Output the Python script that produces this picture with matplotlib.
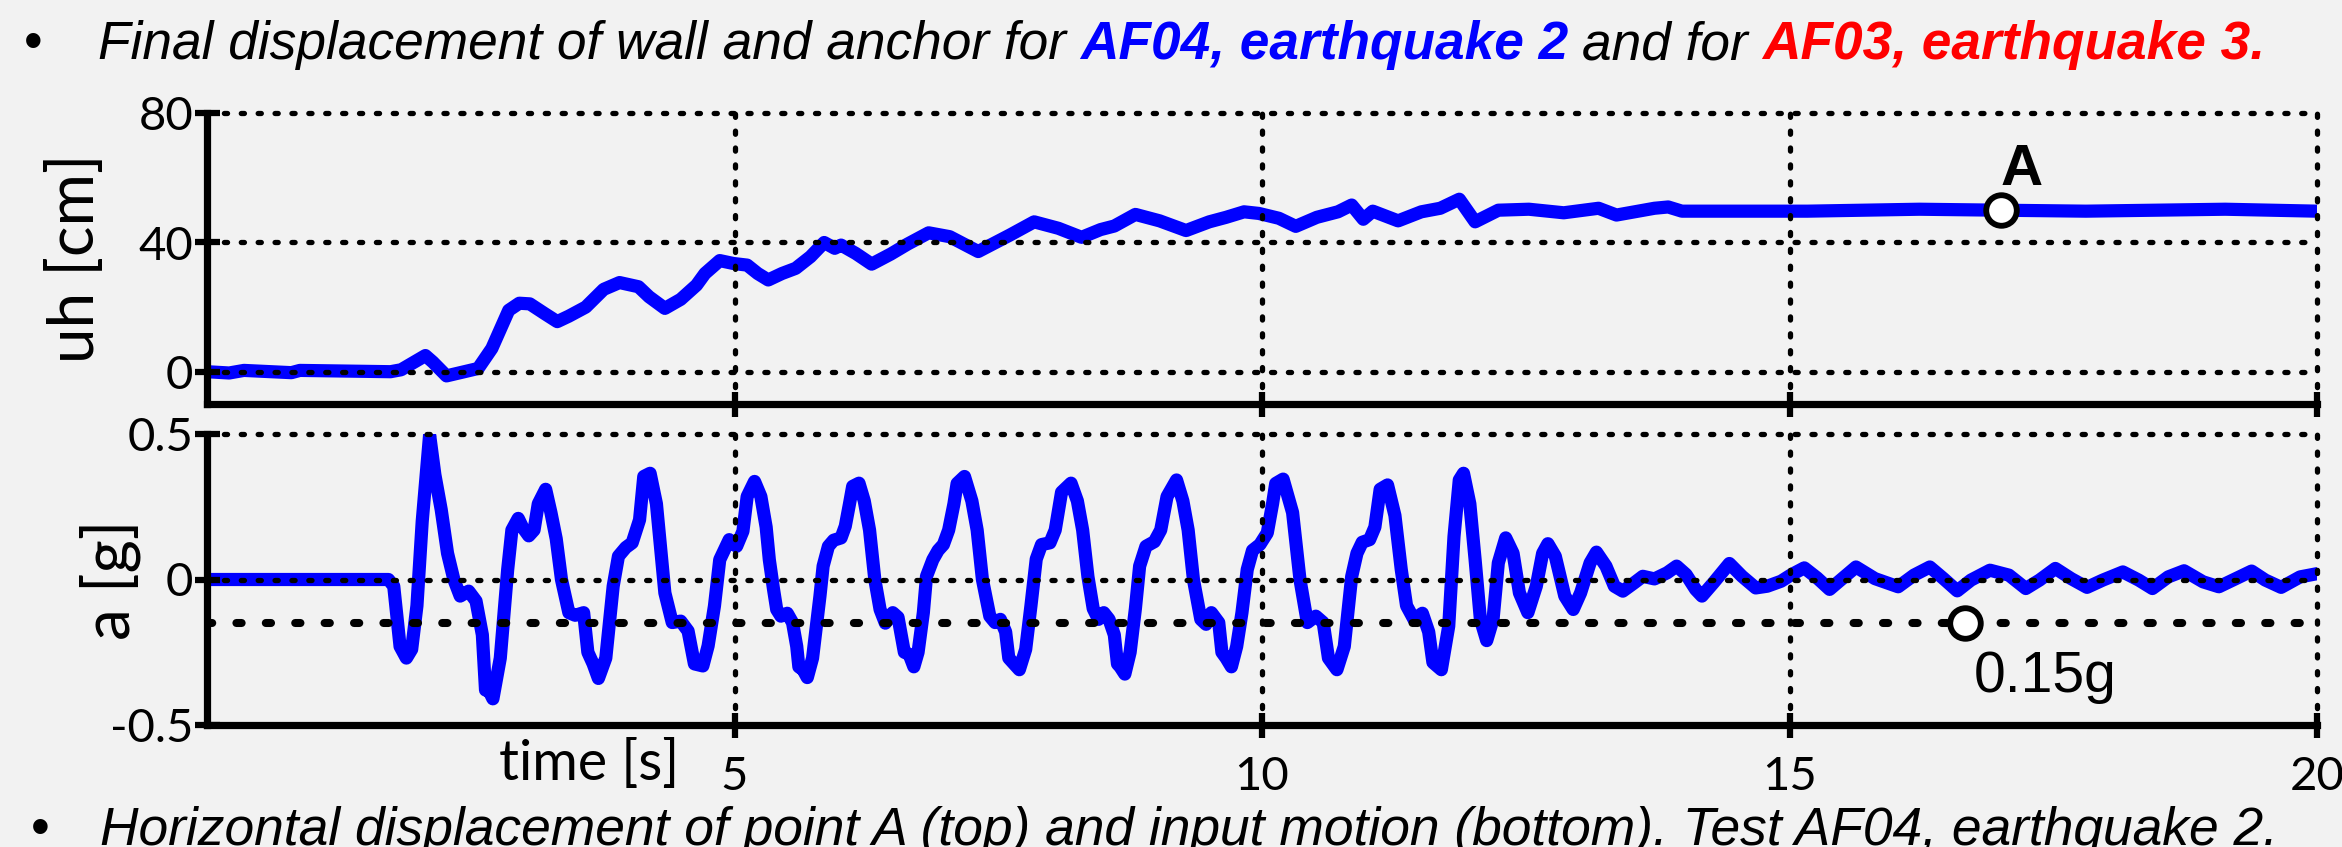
import matplotlib
matplotlib.use("Agg")
import matplotlib.pyplot as plt
from matplotlib.transforms import IdentityTransform

# ---------------- data ----------------
t_uh = [0, 0.21, 0.35, 0.8, 0.88, 1.74, 1.84, 2.07, 2.14, 2.27, 2.57, 2.70, 2.86, 2.96, 3.06,
        3.20, 3.32, 3.43, 3.59, 3.76, 3.91, 4.09, 4.19, 4.34, 4.49, 4.64, 4.72, 4.86, 4.99,
        5.12, 5.22, 5.32, 5.45, 5.58, 5.72, 5.85, 5.95, 6.01, 6.15, 6.30, 6.48, 6.64, 6.84,
        7.04, 7.31, 7.61, 7.84, 8.07, 8.29, 8.47, 8.60, 8.80, 9.03, 9.28, 9.50, 9.66, 9.83,
        9.97, 10.16, 10.32, 10.52, 10.72, 10.85, 10.96, 11.05, 11.29, 11.51, 11.69, 11.87,
        12.02, 12.24, 12.53, 12.86, 13.19, 13.36, 13.72, 13.85, 13.98, 14.51, 15.17, 16.23,
        17.0, 17.81, 19.13, 20.0]
uh_cm = [0, -0.4, 0.4, -0.3, 0.4, 0.0, 0.6, 5.0, 3.0, -1.3, 1.0, 7.2, 19.0, 21.2, 21.0,
         18.0, 15.5, 17.2, 20.0, 25.5, 27.6, 26.3, 23.2, 19.6, 22.4, 26.8, 30.4, 34.4, 33.5,
         33.0, 30.4, 28.4, 30.4, 32.0, 35.6, 40.0, 38.2, 39.2, 36.6, 33.3, 36.4, 39.5, 43.0,
         41.8, 37.2, 42.3, 46.4, 44.4, 41.6, 44.0, 45.1, 48.7, 46.7, 43.7, 46.4, 47.8, 49.5,
         49.0, 47.5, 45.0, 47.8, 49.5, 51.6, 47.2, 49.7, 46.7, 49.5, 50.6, 53.4,
         46.4, 50.0, 50.3, 49.2, 50.6, 48.5, 50.6, 51.0, 49.7, 49.7, 49.7, 50.3,
         50.0, 49.7, 50.3, 49.7]

t_acc = [0, 1.72, 1.77, 1.83, 1.89, 1.94, 1.99, 2.04, 2.11, 2.16, 2.22, 2.28, 2.34, 2.40, 2.48,
         2.55, 2.61, 2.64, 2.67, 2.71, 2.78, 2.85, 2.89, 2.95, 2.99, 3.05, 3.10, 3.14, 3.21,
         3.26, 3.31, 3.36, 3.43, 3.49, 3.57, 3.61, 3.66, 3.71, 3.78, 3.85, 3.90, 3.97, 4.03,
         4.10, 4.14, 4.20, 4.26, 4.34, 4.41, 4.49, 4.56, 4.62, 4.70, 4.75, 4.81, 4.86, 4.95,
         5.02, 5.08, 5.12, 5.19,
         5.25, 5.30, 5.33, 5.37, 5.40, 5.44, 5.50, 5.55, 5.59, 5.61, 5.65, 5.69, 5.74, 5.77,
         5.81, 5.84, 5.89, 5.94, 6.01, 6.05, 6.09, 6.12, 6.18,
         6.23, 6.28, 6.33, 6.38, 6.43, 6.50, 6.55, 6.60, 6.61, 6.655, 6.70, 6.74, 6.79, 6.82,
         6.88, 6.93, 6.98, 7.03, 7.08, 7.11, 7.18,
         7.25, 7.30, 7.35, 7.42, 7.47, 7.52, 7.57, 7.60, 7.65, 7.70, 7.76, 7.81, 7.86, 7.91,
         7.99, 8.04, 8.10, 8.19,
         8.25, 8.30, 8.35, 8.40, 8.45, 8.50, 8.55, 8.60, 8.63, 8.655, 8.70, 8.75, 8.80, 8.84,
         8.90, 8.98, 9.04, 9.10, 9.19,
         9.25, 9.30, 9.35, 9.42, 9.47, 9.52, 9.59, 9.62, 9.66, 9.71, 9.76, 9.81, 9.86, 9.91,
         9.98, 10.05, 10.10, 10.13, 10.20,
         10.29, 10.36, 10.43, 10.51, 10.58, 10.63, 10.71, 10.78, 10.85, 10.90, 10.95, 11.02,
         11.07, 11.12, 11.19, 11.26, 11.32, 11.37, 11.44, 11.52, 11.58, 11.62, 11.70, 11.77,
         11.82, 11.87, 11.91, 11.97, 12.02, 12.07, 12.13, 12.19, 12.24, 12.31, 12.38, 12.44,
         12.52, 12.60, 12.66, 12.71, 12.78, 12.87, 12.95, 13.02, 13.11, 13.17, 13.26, 13.34,
         13.42, 13.53, 13.61, 13.72, 13.84, 13.93, 14.02, 14.11, 14.17, 14.28, 14.43, 14.55,
         14.68, 14.79, 14.92, 15.02, 15.14, 15.26, 15.38,
         15.63, 15.81, 16.03, 16.18, 16.33, 16.46, 16.59, 16.72, 16.90, 17.08, 17.24, 17.37,
         17.52, 17.67, 17.82, 17.97, 18.16, 18.31, 18.44, 18.59, 18.74, 18.92, 19.07, 19.23,
         19.38, 19.51, 19.66, 19.84, 20.0]
acc_g = [0, 0, -0.023, -0.23, -0.27, -0.24, -0.09, 0.20, 0.497, 0.36, 0.24, 0.09, 0.0, -0.057, -0.04,
         -0.074, -0.19, -0.38, -0.38, -0.41, -0.27, 0.034, 0.17, 0.21, 0.18, 0.15, 0.17, 0.26, 0.31,
         0.23, 0.14, 0.0, -0.114, -0.123, -0.114, -0.25, -0.29, -0.34, -0.27, -0.023, 0.08, 0.11, 0.126,
         0.205, 0.354, 0.365, 0.26, -0.046, -0.148, -0.143, -0.177, -0.29, -0.297, -0.228, -0.091, 0.068, 0.137,
         0.114, 0.166, 0.285, 0.337,
         0.285, 0.18, 0.068, -0.034, -0.103, -0.126, -0.116, -0.148, -0.23, -0.30, -0.31, -0.337, -0.27, -0.18,
         -0.057, 0.046, 0.114, 0.135, 0.143, 0.183, 0.26, 0.32, 0.331,
         0.27, 0.17, 0.0, -0.103, -0.15, -0.114, -0.13, -0.23, -0.25, -0.257, -0.30, -0.25, -0.114, 0.011,
         0.068, 0.10, 0.12, 0.17, 0.26, 0.33, 0.354,
         0.27, 0.17, 0.0, -0.126, -0.148, -0.137, -0.18, -0.27, -0.29, -0.31, -0.24, -0.09, 0.07, 0.12,
         0.126, 0.17, 0.30, 0.331,
         0.27, 0.17, 0.01, -0.10, -0.137, -0.114, -0.137, -0.19, -0.29, -0.30, -0.325, -0.25, -0.10, 0.046,
         0.114, 0.13, 0.17, 0.285, 0.342,
         0.27, 0.17, 0.0, -0.137, -0.154, -0.114, -0.148, -0.25, -0.27, -0.30, -0.23, -0.114, 0.034, 0.10,
         0.12, 0.16, 0.26, 0.33, 0.345,
         0.23, 0.0, -0.148, -0.126, -0.148, -0.27, -0.31, -0.23, 0.01, 0.09, 0.128, 0.137,
         0.18, 0.31, 0.325, 0.22, 0.034, -0.09, -0.137, -0.116, -0.18, -0.285, -0.31, -0.16,
         0.148, 0.342, 0.365, 0.26, 0.068, -0.137, -0.21, -0.137, 0.057, 0.143, 0.09, -0.046,
         -0.114, -0.023, 0.09, 0.123, 0.08, -0.057, -0.103, -0.046, 0.057, 0.094, 0.046, -0.023,
         -0.04, -0.011, 0.011, 0.002, 0.023, 0.046, 0.017, -0.034, -0.057, -0.011, 0.055, 0.011,
         -0.029, -0.023, -0.006, 0.017, 0.04, 0.006, -0.034,
         0.043, 0.003, -0.025, 0.015, 0.043, 0.003, -0.039, -0.002, 0.032, 0.015, -0.031, -0.002,
         0.038, 0.003, -0.027, -0.002, 0.026, -0.002, -0.031, 0.009, 0.03, -0.008, -0.025, 0.003,
         0.029, -0.002, -0.027, 0.009, 0.02]

x_ticks = [5, 10, 15, 20]
x_tick_labels = ["5", "10", "15", "20"]
uh_ticks = [0, 40, 80]
uh_tick_labels = ["0", "40", "80"]
acc_ticks = [-0.5, 0, 0.5]
acc_tick_labels = ["-0.5", "0", "0.5"]
threshold_g = -0.15
point_A = (17.0, 50.0)
point_thr = (16.66, -0.15)

title_pieces = [("Final displacement of wall and anchor for", "black", "normal"),
                ("AF04, earthquake 2", "#0000ff", "bold"),
                ("and for", "black", "normal"),
                ("AF03, earthquake 3.", "#ff0000", "bold")]
caption_pieces = [("Horizontal displacement of point A (top) and input motion (bottom). "
                   "Test AF04, earthquake 2.", "black", "normal")]

# ---------------- figure ----------------
BG = "#f2f2f2"
plt.rcParams["font.family"] = ["Lato", "DejaVu Sans"]
W, H = 2342, 847
fig = plt.figure(figsize=(W / 100, H / 100), dpi=100, facecolor=BG)

left, width = 207 / W, 2110 / W
ax1 = fig.add_axes([left, 1 - 404 / H, width, 290.7 / H])
ax2 = fig.add_axes([left, 1 - 725 / H, width, 291 / H])

for ax in (ax1, ax2):
    ax.set_facecolor(BG)
    ax.spines["top"].set_visible(False)
    ax.spines["right"].set_visible(False)
    for s in ("left", "bottom"):
        ax.spines[s].set_linewidth(5.2)
        ax.spines[s].set_capstyle("projecting")
    ax.set_xlim(0, 20)
    ax.set_xticks(x_ticks)
    ax.tick_params(axis="both", direction="inout", length=18, width=4.5,
                   color="black", labelsize=34)
    ax.tick_params(axis="y", pad=1)
    ax.tick_params(axis="x", pad=13)
    ax.set_axisbelow(False)
    ax.grid(True, color="black", linestyle=(0, (0.6, 2.6)), linewidth=3.8,
            dash_capstyle="round")
    for gl in ax.get_xgridlines() + ax.get_ygridlines():
        gl.set_clip_on(False)

ax1.set_ylim(-10, 80)
ax1.set_yticks(uh_ticks)
ax1.set_yticklabels(uh_tick_labels)
ax1.tick_params(axis="x", labelbottom=False)

ax2.set_ylim(-0.5, 0.5)
ax2.set_yticks(acc_ticks)
ax2.set_yticklabels(acc_tick_labels)
ax2.set_xticklabels(x_tick_labels)

ax1.plot(t_uh, uh_cm, color="#0000ff", lw=9.5, solid_joinstyle="round",
         solid_capstyle="round", zorder=2)
ax2.plot(t_acc, acc_g, color="#0000ff", lw=9.5, solid_joinstyle="round",
         solid_capstyle="round", zorder=2)

ax2.axhline(threshold_g, color="black", lw=5.8, linestyle=(0, (0.65, 3.0)),
            dash_capstyle="round", zorder=3)

ax1.plot([point_A[0]], [point_A[1]], "o", ms=22, mfc="white", mec="black",
         mew=4.2, zorder=6, clip_on=False)
ax2.plot([point_thr[0]], [point_thr[1]], "o", ms=22, mfc="white", mec="black",
         mew=4.2, zorder=6, clip_on=False)

ax1.text(17.2, 57.8, "A", fontsize=42, fontweight="bold",
         family=["Liberation Sans", "DejaVu Sans"], ha="center", va="baseline", zorder=7)
ax2.text(16.75, -0.388, "0.15g", fontsize=41,
         family=["Liberation Sans", "DejaVu Sans"], ha="left", va="baseline", zorder=7)

ax1.set_ylabel("uh [cm]", fontsize=46)
ax1.yaxis.set_label_coords(-0.0485, 0.5)
ax2.set_ylabel("a [g]", fontsize=46)
ax2.yaxis.set_label_coords(-0.0315, 0.5)
ax2.text(0.181, -0.189, "time [s]", transform=ax2.transAxes, fontsize=40,
         ha="center", va="baseline")

# ---------------- text lines ----------------
renderer = fig.canvas.get_renderer()
TFAM = ["Liberation Sans", "DejaVu Sans"]


def text_line(pieces, x0, base, target_w, size0=36.0):
    y = H - base
    arts = []
    for s, col, wt in pieces:
        arts.append(fig.text(0, y, s, fontsize=size0, color=col, fontweight=wt,
                             fontstyle="italic", family=TFAM, ha="left",
                             va="baseline", transform=IdentityTransform()))
    t1 = fig.text(0, 0, "a a", fontsize=size0, fontstyle="italic", family=TFAM)
    t2 = fig.text(0, 0, "aa", fontsize=size0, fontstyle="italic", family=TFAM)
    sp = t1.get_window_extent(renderer).width - t2.get_window_extent(renderer).width
    t1.remove()
    t2.remove()
    widths = [a.get_window_extent(renderer).width for a in arts]
    total = sum(widths) + sp * (len(arts) - 1)
    k = target_w / total
    x = x0
    for a, w in zip(arts, widths):
        a.set_fontsize(size0 * k)
        a.set_position((x, y))
        x += (w + sp) * k
    return size0 * k


sz = text_line(title_pieces, 98, 59, 2167)
fig.text(33, H - 59, "\u2022", fontsize=sz, family=TFAM, ha="center",
         va="baseline", transform=IdentityTransform())
sz2 = text_line(caption_pieces, 100, 845, 2176)
fig.text(40, H - 845, "\u2022", fontsize=sz2, family=TFAM, ha="center",
         va="baseline", transform=IdentityTransform())

fig.savefig("out.png", dpi=100, facecolor=BG)
